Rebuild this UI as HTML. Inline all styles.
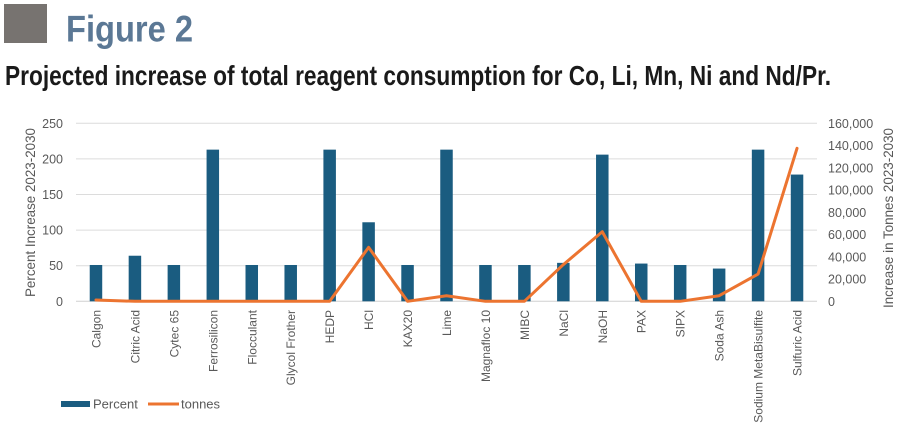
<!DOCTYPE html>
<html><head><meta charset="utf-8"><style>
html,body{margin:0;padding:0;background:#fff;}
svg{display:block;}
</style></head><body>
<svg width="900" height="432" viewBox="0 0 900 432" xmlns="http://www.w3.org/2000/svg">
<rect x="0" y="0" width="900" height="432" fill="#fff"/>
<rect x="4" y="4" width="43" height="39" fill="#777370"/>
<text x="66" y="41.7" font-family="'Liberation Sans Narrow','Liberation Sans',sans-serif" font-weight="bold" font-size="37" fill="#5b7895" textLength="127" lengthAdjust="spacingAndGlyphs">Figure 2</text>
<text x="5" y="85" font-family="'Liberation Sans Narrow','Liberation Sans',sans-serif" font-weight="bold" font-size="27.5" fill="#1a1a1a" textLength="826" lengthAdjust="spacingAndGlyphs">Projected increase of total reagent consumption for Co, Li, Mn, Ni and Nd/Pr.</text>
<g stroke="#dcdcdc" stroke-width="1">
<line x1="76" x2="817" y1="123.3" y2="123.3"/>
<line x1="76" x2="817" y1="158.9" y2="158.9"/>
<line x1="76" x2="817" y1="194.5" y2="194.5"/>
<line x1="76" x2="817" y1="230.1" y2="230.1"/>
<line x1="76" x2="817" y1="265.7" y2="265.7"/>
<line x1="76" x2="817" y1="301.3" y2="301.3" stroke="#d0d0d0"/>
</g>
<g font-family="'Liberation Sans',sans-serif" font-size="12.5" fill="#595959" text-anchor="end">
<text x="63" y="127.8">250</text>
<text x="63" y="163.4">200</text>
<text x="63" y="199">150</text>
<text x="63" y="234.6">100</text>
<text x="63" y="270.2">50</text>
<text x="63" y="305.8">0</text>
</g>
<g font-family="'Liberation Sans',sans-serif" font-size="12.5" fill="#595959">
<text x="828" y="127.8">160,000</text>
<text x="828" y="150">140,000</text>
<text x="828" y="172.3">120,000</text>
<text x="828" y="194.5">100,000</text>
<text x="828" y="216.8">80,000</text>
<text x="828" y="239">60,000</text>
<text x="828" y="261.3">40,000</text>
<text x="828" y="283.5">20,000</text>
<text x="828" y="305.8">0</text>
</g>
<text transform="translate(35,212.5) rotate(-90)" text-anchor="middle" font-family="'Liberation Sans',sans-serif" font-size="14" fill="#595959" textLength="169" lengthAdjust="spacingAndGlyphs">Percent Increase 2023-2030</text>
<text transform="translate(893,218) rotate(-90)" text-anchor="middle" font-family="'Liberation Sans',sans-serif" font-size="14" fill="#595959" textLength="180" lengthAdjust="spacingAndGlyphs">Increase in Tonnes 2023-2030</text>
<g id="bars" fill="#1a5c80"></g>
<g id="labels" font-family="'Liberation Sans',sans-serif" font-size="12" fill="#595959" text-anchor="end"></g>
<polyline id="line" fill="none" stroke="#ec7430" stroke-width="3" stroke-linejoin="round" stroke-linecap="round"/>
<rect x="61" y="401" width="29" height="6" fill="#1a5c80"/>
<text x="93" y="408.5" font-family="'Liberation Sans',sans-serif" font-size="13" fill="#595959">Percent</text>
<line x1="148" x2="179" y1="404" y2="404" stroke="#ec7430" stroke-width="3"/>
<text x="181" y="408.5" font-family="'Liberation Sans',sans-serif" font-size="13" fill="#595959">tonnes</text>
<g id="static"></g>
</svg>
<script>
var names=["Calgon","Citric Acid","Cytec 65","Ferrosilicon","Flocculant","Glycol Frother","HEDP","HCl","KAX20","Lime","Magnafloc 10","MIBC","NaCl","NaOH","PAX","SIPX","Soda Ash","Sodium MetaBisulfite","Sulfuric Acid"];
var pct=[51,64,51,213,51,51,213,111,51,213,51,51,54,206,53,51,46,213,178];
var ton=[1200,0,0,0,0,0,0,48500,0,5000,0,0,33000,62500,0,0,5000,24500,137500];
var ns="http://www.w3.org/2000/svg";
var y0=301.3, ps=178/250, ts=178/160000, left=76.5, step=740/19;
var bars=document.getElementById("bars"), labels=document.getElementById("labels");
var pts=[];
for(var i=0;i<19;i++){
 var cx=left+(i+0.5)*step;
 var h=pct[i]*ps;
 var r=document.createElementNS(ns,"rect");
 r.setAttribute("x",(cx-6.25).toFixed(2));r.setAttribute("y",(y0-h).toFixed(2));
 r.setAttribute("width","12.5");r.setAttribute("height",h.toFixed(2));
 bars.appendChild(r);
 var t=document.createElementNS(ns,"text");
 t.setAttribute("transform","translate("+(cx+4.5).toFixed(2)+",310) rotate(-90)");
 t.textContent=names[i];
 labels.appendChild(t);
 pts.push(cx.toFixed(2)+","+(y0-ton[i]*ts).toFixed(2));
}
document.getElementById("line").setAttribute("points",pts.join(" "));
</script>
</body></html>
